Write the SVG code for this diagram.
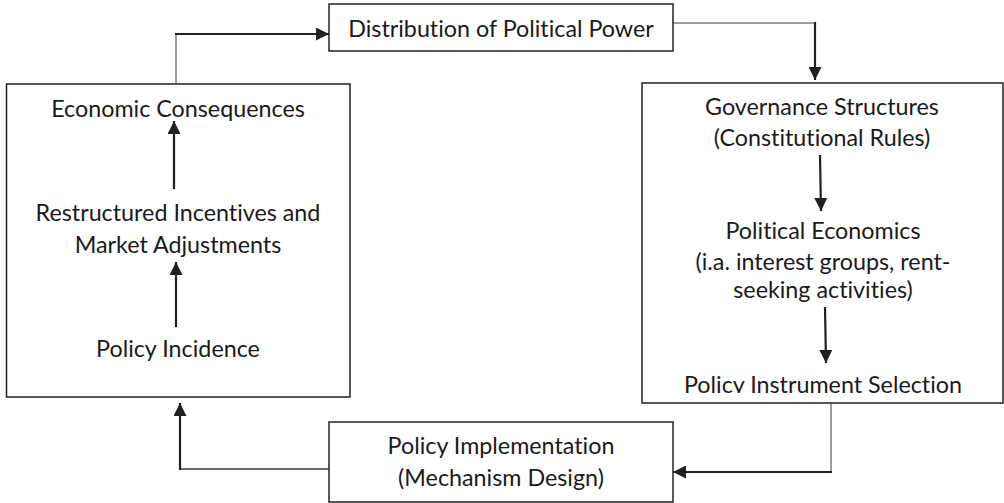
<svg xmlns="http://www.w3.org/2000/svg" width="1004" height="503" viewBox="0 0 1004 503">
<style>
.box{fill:#fff;stroke:#231f20;stroke-width:1.5}
.t{font-family:Lato,"Open Sans",sans-serif;font-size:23.3px;fill:#1a1a1a;text-anchor:middle;font-variant-ligatures:none}
.thin{fill:none;stroke:#3a3a3a;stroke-width:1}
.thick{fill:none;stroke:#231f20;stroke-width:2.2}
</style>
<defs>
<marker id="ah" markerUnits="userSpaceOnUse" markerWidth="13" markerHeight="13" viewBox="0 0 13 13" refX="13" refY="6.5" orient="auto">
<path d="M0,0 L13,6.5 L0,13 z" fill="#231f20"/>
</marker>
<clipPath id="clipR"><rect x="642" y="83" width="362" height="310"/></clipPath>
</defs>
<rect width="1004" height="503" fill="#fff"/>
<g id="node-distribution">
<rect class="box" x="329" y="4" width="344" height="47"/>
<text class="t" x="501" y="37">Distribution of Political Power</text>
</g>
<g id="node-left">
<rect class="box" x="6.5" y="84" width="343.5" height="313"/>
<text class="t" x="178" y="117">Economic Consequences</text>
<text class="t" x="178" y="221">Restructured Incentives and</text>
<text class="t" x="178" y="253">Market Adjustments</text>
<text class="t" x="178" y="357">Policy Incidence</text>
</g>
<g id="node-right">
<rect class="box" x="642" y="83" width="361" height="320"/>
<text class="t" x="822" y="115">Governance Structures</text>
<text class="t" x="822" y="146">(Constitutional Rules)</text>
<text class="t" x="823" y="239">Political Economics</text>
<text class="t" x="823" y="270">(i.a. interest groups, rent-</text>
<text class="t" x="823" y="298">seeking activities)</text>
<text class="t" x="823" y="393" clip-path="url(#clipR)">Policy Instrument Selection</text>
</g>
<g id="node-bottom">
<rect class="box" x="329" y="422" width="344" height="80"/>
<text class="t" x="501" y="454">Policy Implementation</text>
<text class="t" x="501" y="486">(Mechanism Design)</text>
</g>
<g id="connectors">
<line class="thin" x1="176" y1="84" x2="176" y2="34"/>
<line class="thick" x1="175" y1="34" x2="329" y2="34" marker-end="url(#ah)"/>
<line class="thin" x1="673" y1="23" x2="815" y2="23"/>
<line class="thick" x1="815" y1="22" x2="815" y2="80" marker-end="url(#ah)"/>
<line class="thick" x1="820" y1="155" x2="821" y2="211" marker-end="url(#ah)"/>
<line class="thick" x1="825" y1="307" x2="826" y2="363" marker-end="url(#ah)"/>
<line class="thin" x1="831" y1="403" x2="831" y2="472"/>
<line class="thick" x1="832" y1="472" x2="673" y2="472" marker-end="url(#ah)"/>
<line class="thin" x1="329" y1="469" x2="180" y2="469" style="stroke-width:1.5"/>
<line class="thick" x1="180" y1="470" x2="180" y2="403" marker-end="url(#ah)"/>
<line class="thick" x1="174" y1="189" x2="174" y2="121" marker-end="url(#ah)"/>
<line class="thick" x1="176" y1="327" x2="176" y2="262" marker-end="url(#ah)"/>
</g>
</svg>
